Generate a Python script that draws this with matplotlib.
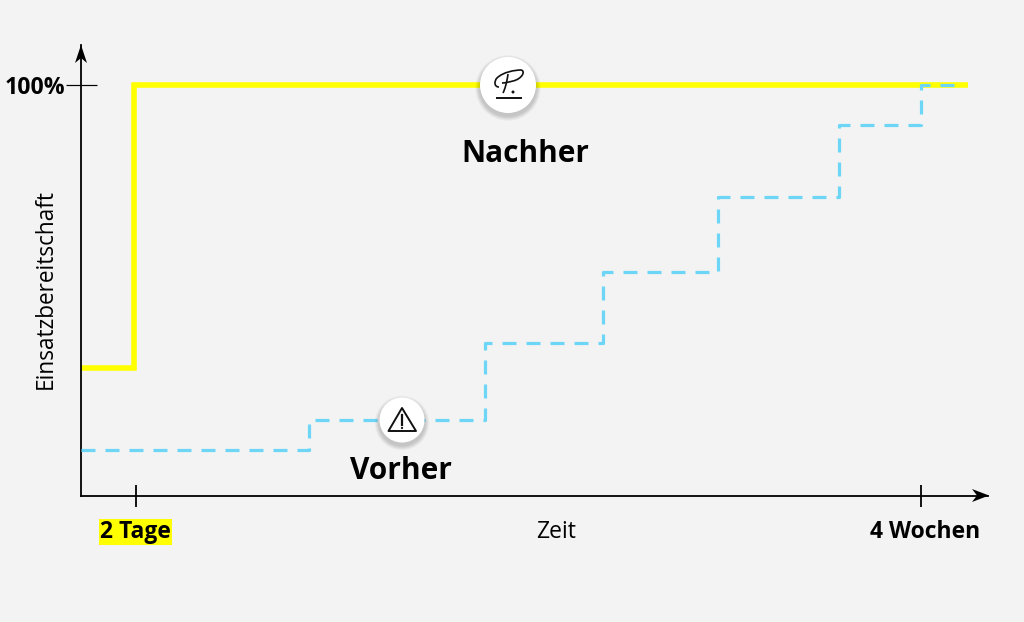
import matplotlib
matplotlib.use("Agg")
import matplotlib.pyplot as plt
from matplotlib.patches import Circle, Polygon, PathPatch
from matplotlib.path import Path
from matplotlib.transforms import ScaledTranslation

plt.rcParams['font.family'] = ['Open Sans', 'DejaVu Sans']
plt.rcParams['lines.scale_dashes'] = False

nachher_x = [0, 6.25, 105.6]
nachher_y = [31.1, 100, 100]
vorher_x = [0, 27.2, 48.1, 62.1, 75.8, 90.2, 100, 104.4]
vorher_y = [11.1, 18.6, 37.3, 54.4, 72.8, 90.3, 100, 100]
xtick_pos = [6.5, 100]
xtick_labels = ['2 Tage', '4 Wochen']
ytick_pos = [100]
ytick_labels = ['100%']

BG = '#f3f3f3'
YELLOW = '#ffff00'
BLUE = '#6dd6f6'
W, H = 1024, 622
PT = 0.72

fig = plt.figure(figsize=(10.24, 6.22), dpi=100, facecolor=BG)
L, R, B, T = 81, 988, 496, 45
ax = fig.add_axes([L / W, 1 - B / H, (R - L) / W, (B - T) / H], facecolor='none')
ax.set_xlim(0, (R - L) / 8.4)
ax.set_ylim(0, (B - T) / 4.11)

ax.step(nachher_x, nachher_y, where='post', color=YELLOW, lw=5.6 * PT,
        solid_joinstyle='miter', solid_capstyle='butt', zorder=2, clip_on=False)
ax.step(vorher_x, vorher_y, where='post', color=BLUE, lw=3.2 * PT,
        dashes=(14 * PT, 10 * PT), dash_capstyle='butt', zorder=3, clip_on=False)

for s in ('top', 'right'):
    ax.spines[s].set_visible(False)
for s in ('left', 'bottom'):
    ax.spines[s].set_linewidth(1.8 * PT)
    ax.spines[s].set_color('black')

ax.set_xticks(xtick_pos, xtick_labels, fontsize=16.5, fontweight='bold')
ax.set_yticks(ytick_pos, ytick_labels, fontsize=16.7, fontweight='bold')
ax.tick_params(axis='x', direction='inout', length=23 * PT, width=1.8 * PT, pad=9)
ax.tick_params(axis='y', direction='inout', length=31 * PT, width=1.2 * PT, pad=0)
xlabels = ax.get_xticklabels()
xlabels[0].set_bbox(dict(facecolor=YELLOW, edgecolor='none', pad=1.0))
xlabels[1].set_transform(xlabels[1].get_transform() + ScaledTranslation(4 / 100, 0, fig.dpi_scale_trans))

ax.set_xlabel('Zeit', fontsize=16.5)
ax.xaxis.set_label_coords((556 - L) / (R - L), -(520 - B) / (B - T))
ax.set_ylabel('Einsatzbereitschaft', fontsize=16.3)
ax.yaxis.set_label_coords(-(L - 58) / (R - L), (B - 289) / (B - T))

# overlay in pixel coordinates for arrowheads, icons and annotations
ov = fig.add_axes([0, 0, 1, 1], facecolor='none')
ov.set_xlim(0, W)
ov.set_ylim(H, 0)
ov.axis('off')

ov.add_patch(Polygon([(81, 45), (87, 63), (81, 58), (75, 63)], closed=True, fc='black', ec='none'))
ov.add_patch(Polygon([(989, 495.5), (972, 489), (977, 495.5), (972, 502)], closed=True, fc='black', ec='none'))


def badge(cx, cy, r):
    for k in range(8, 0, -1):
        ov.add_patch(Circle((cx, cy + 3), r + k * 0.6, fc='black', ec='none', alpha=0.022, zorder=4))
    ov.add_patch(Circle((cx, cy), r, fc='white', ec='none', zorder=5))


badge(508, 85, 28)
badge(402, 420, 22.5)

# signature glyph
INK = '#111111'
C4 = Path.CURVE4
sig = Path([(499, 87), (494, 87), (494, 81), (497, 78), (503, 72), (515, 70), (521, 70),
            (526, 71), (522, 79), (513, 81), (509, 82), (505, 83), (502, 83)],
           [Path.MOVETO, C4, C4, C4, C4, C4, C4, C4, C4, C4, C4, C4, C4])
ov.add_patch(PathPatch(sig, fc='none', ec=INK, lw=1.2, zorder=6))
stem = Path([(508, 74), (507, 82), (505, 89), (503, 93)], [Path.MOVETO, C4, C4, C4])
ov.add_patch(PathPatch(stem, fc='none', ec=INK, lw=1.2, zorder=6))
ov.plot([497, 521], [98, 98], color=INK, lw=1.4, zorder=6)
ov.add_patch(Circle((513, 92), 1.5, fc=INK, ec='none', zorder=6))

# warning glyph
ov.add_patch(Polygon([(402, 408), (416, 431), (388.5, 431)], closed=True, fc='none', ec=INK,
                     lw=1.4, joinstyle='round', zorder=6))
ov.plot([402, 402], [415, 425], color=INK, lw=1.6, zorder=6)
ov.add_patch(Circle((402, 428), 1.1, fc=INK, ec='none', zorder=6))

ov.text(525, 154, 'Nachher', fontsize=21.4, fontweight='bold', ha='center', va='center', color='black', zorder=6)
ov.text(401, 471, 'Vorher', fontsize=21.5, fontweight='bold', ha='center', va='center', color='black', zorder=6)

fig.savefig('out.png', dpi=100, facecolor=BG)
